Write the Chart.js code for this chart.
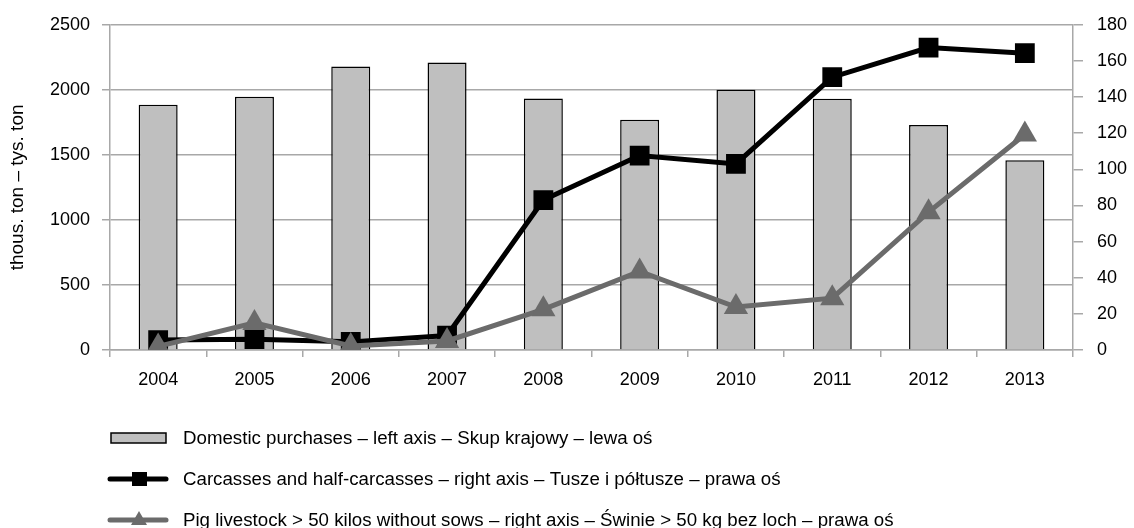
<!DOCTYPE html>
<html>
<head>
<meta charset="utf-8">
<script src="https://cdn.jsdelivr.net/npm/chart.js@4.4.0/dist/chart.umd.min.js"></script>
<style>
  html, body { margin: 0; padding: 0; background: #fff; }
  #wrap { width: 1134px; height: 528px; }
</style>
</head>
<body>
<div id="wrap"><canvas id="chart" width="1134" height="528"></canvas></div>
<script>
// years and series
const years = ['2004','2005','2006','2007','2008','2009','2010','2011','2012','2013'];
const domesticPurchases = [1885, 1946, 2180, 2210, 1933, 1771, 2000, 1931, 1730, 1458];
const carcasses = [5.5, 6, 4.5, 8, 83, 107.6, 103, 151, 167.4, 164.3];
const pigLivestock = [2, 15, 2.2, 5, 22.5, 43.5, 23.8, 28.7, 76.3, 119.3];

const legendLabels = [
  'Domestic purchases – left axis – Skup krajowy – lewa oś',
  'Carcasses and half-carcasses – right axis – Tusze i półtusze – prawa oś',
  'Pig livestock > 50 kilos without sows – right axis – Świnie > 50 kg bez loch – prawa oś'
];

const FONT = '"Liberation Sans", Arial, sans-serif';
const GRID = '#a8a8a8';
const GRAY_LINE = '#6b6b6b';

// legend under the plot, one entry per row
const bottomLegend = {
  id: 'bottomLegend',
  afterDraw(chart) {
    const ctx = chart.ctx;
    const x0 = 108, textX = 183;
    const rows = [438, 479, 520];
    ctx.save();
    ctx.font = '18.7px ' + FONT;
    ctx.textBaseline = 'middle';

    // bar swatch
    ctx.fillStyle = '#bfbfbf';
    ctx.fillRect(111, rows[0] - 5, 55, 10);
    ctx.strokeStyle = '#000';
    ctx.lineWidth = 1.5;
    ctx.strokeRect(111, rows[0] - 5, 55, 10);

    // black line + square
    ctx.lineCap = 'round';
    ctx.lineWidth = 5;
    ctx.strokeStyle = '#000';
    ctx.beginPath(); ctx.moveTo(x0 + 2, rows[1]); ctx.lineTo(166, rows[1]); ctx.stroke();
    ctx.fillStyle = '#000';
    ctx.fillRect(132, rows[1] - 7, 15, 14);

    // gray line + triangle
    ctx.strokeStyle = GRAY_LINE;
    ctx.beginPath(); ctx.moveTo(x0 + 2, rows[2]); ctx.lineTo(166, rows[2]); ctx.stroke();
    ctx.fillStyle = GRAY_LINE;
    ctx.beginPath();
    ctx.moveTo(139, rows[2] - 9); ctx.lineTo(147, rows[2] + 5); ctx.lineTo(131, rows[2] + 5);
    ctx.closePath(); ctx.fill();

    ctx.fillStyle = '#000';
    legendLabels.forEach((t, i) => ctx.fillText(t, textX, rows[i] + 1));
    ctx.restore();
  }
};

const plain = v => String(v);

new Chart(document.getElementById('chart').getContext('2d'), {
  data: {
    labels: years,
    datasets: [
      {
        type: 'bar', label: legendLabels[0], data: domesticPurchases, yAxisID: 'y',
        backgroundColor: '#bfbfbf', borderColor: '#000', borderWidth: 1.5,
        barPercentage: 0.405, categoryPercentage: 1, order: 2
      },
      {
        type: 'line', label: legendLabels[1], data: carcasses, yAxisID: 'y1',
        borderColor: '#000', backgroundColor: '#000', borderWidth: 5,
        pointStyle: 'rect', pointRadius: 14, pointBorderWidth: 0,
        tension: 0, order: 1
      },
      {
        type: 'line', label: legendLabels[2], data: pigLivestock, yAxisID: 'y1',
        borderColor: GRAY_LINE, backgroundColor: GRAY_LINE, borderWidth: 5,
        pointStyle: 'triangle', pointRadius: 14, pointBorderWidth: 0,
        tension: 0, order: 0
      }
    ]
  },
  options: {
    responsive: false,
    animation: false,
    layout: { padding: { top: 20, left: 0, right: 0, bottom: 0 } },
    plugins: { legend: { display: false }, tooltip: { enabled: false } },
    scales: {
      x: {
        offset: true,
        grid: { offset: true, drawOnChartArea: false, drawTicks: true, tickLength: 7, color: GRID, lineWidth: 1.5 },
        border: { color: GRID, width: 1.5 },
        ticks: { color: '#000', font: { family: FONT, size: 18 }, padding: 12, maxRotation: 0 },
        afterFit(s) { s.height = 178; }
      },
      y: {
        position: 'left', min: 0, max: 2500,
        ticks: { stepSize: 500, color: '#000', font: { family: FONT, size: 18 }, padding: 12, callback: plain },
        grid: { color: GRID, lineWidth: 1.5, tickLength: 8 },
        border: { color: GRID, width: 1.5 },
        title: { display: true, text: 'thous. ton – tys. ton', color: '#000', font: { family: FONT, size: 19 }, padding: { top: 6, bottom: 0 } },
        afterFit(s) { s.width = 110; }
      },
      y1: {
        position: 'right', min: 0, max: 180,
        ticks: { stepSize: 20, color: '#000', font: { family: FONT, size: 18 }, padding: 14, callback: plain },
        grid: { drawOnChartArea: false, color: GRID, lineWidth: 1.5, tickLength: 10 },
        border: { color: GRID, width: 1.5 },
        afterFit(s) { s.width = 61; }
      }
    }
  },
  plugins: [bottomLegend]
});
</script>
</body>
</html>
